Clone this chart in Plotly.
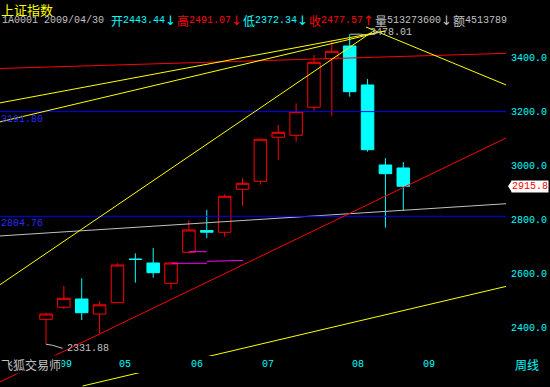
import plotly.graph_objects as go

# ---------------- data ----------------
week_index = list(range(21))
open_ = [2424.0, 2468.4, 2499.0, 2443.44, 2485.4, 2646.5, 2632.2, 2557.1, 2671.7, 2752.0,
         2745.7, 2904.6, 2934.2, 3096.9, 3104.3, 3207.8, 3387.4, 3434.4, 3290.2, 2994.5, 2983.4]
high = [2448.0, 2547.0, 2575.6, 2491.07, 2631.0, 2668.0, 2687.6, 2635.9, 2791.0, 2828.0,
        2886.0, 2945.3, 3090.5, 3142.3, 3222.6, 3401.0, 3456.6, 3478.01, 3312.4, 3020.3, 3005.5]
low = [2331.88, 2462.0, 2421.4, 2372.34, 2484.0, 2559.3, 2577.8, 2536.0, 2669.0, 2723.5,
       2729.4, 2844.0, 2921.6, 3014.0, 3080.6, 3195.2, 3176.7, 3247.0, 3043.6, 2762.7, 2825.5]
close = [2443.6, 2501.7, 2448.4, 2477.57, 2624.8, 2645.5, 2596.3, 2632.2, 2754.2, 2746.0,
         2878.7, 2926.8, 3089.5, 3115.3, 3191.5, 3374.1, 3414.8, 3265.4, 3051.0, 2962.3, 2915.8]

month_labels = ["2009", "05", "06", "07", "08", "09"]
month_index = [0, 4, 8, 12, 17, 21]
y_ticks = [2400, 2600, 2800, 3000, 3200, 3400]

cursor = 3                       # 2009/04/30 week shown in the header
cursor_date = "2009/04/30"
volume_text = "513273600"
amount_text = "4513789"
low_mark = 2331.88
high_mark = 3478.01
last_close = 2915.8
levels = [3191.80, 2804.76]

# drawn lines: (x indices, prices)
red_upper_x, red_upper_y = [-2.6, 25.8], [3351.2, 3407.4]
red_lower_x, red_lower_y = [-2.6, 25.8], [2191.5, 3095.8]
yel_a_x, yel_a_y = [-2.6, 18.25], [2550.8, 3486.1]
yel_b_x, yel_b_y = [-2.6, 18.98], [3153.4, 3489.8]
yel_c_x, yel_c_y = [-2.6, 18.98], [3223.7, 3489.8]
yel_d_x, yel_d_y = [17.91, 25.8], [3504.6, 3289.1]
yel_e_x, yel_e_y = [2.05, 25.8], [2177.4, 2546.4]
gray_x, gray_y = [-2.6, 25.8], [2732.0, 2851.4]
mag1_x, mag1_y = [7.05, 9.0], [2631.1, 2631.1]
mag2_x, mag2_y = [9.0, 11.03], [2638.4, 2641.4]
mag3_x, mag3_y = [8.0, 9.0], [2673.9, 2673.9]
low_conn_x, low_conn_y = [0.0, 0.35, 0.93], [2331.88, 2328.0, 2316.8]
high_conn_x, high_conn_y = [17.03, 17.58, 17.95], [3478.01, 3478.01, 3475.1]

# ---------------- styling ----------------
RED = "#ff0000"
CYAN = "#00ffff"
YEL = "#ffff00"
GRAY = "#c0c0c0"
BLUE = "#0000ff"
BLUE_TXT = "#2a2aff"
MAG = "#ff00ff"
MONO = "Liberation Mono, DejaVu Sans Mono, monospace"
CJK = "Noto Sans CJK SC, sans-serif"
ARROW = "DejaVu Sans, sans-serif"

W, H = 550, 387
PLOT_W = 506


def px_x(px):
    return px / PLOT_W


def px_y(py):
    return 1 - py / H


fig = go.Figure()
fig.add_trace(go.Candlestick(
    x=week_index, open=open_, high=high, low=low, close=close,
    increasing=dict(line=dict(color=RED, width=1), fillcolor="#000000"),
    decreasing=dict(line=dict(color=CYAN, width=1), fillcolor=CYAN),
    whiskerwidth=0, showlegend=False, hoverinfo="skip"))


def line(x, y, color):
    fig.add_trace(go.Scatter(x=x, y=y, mode="lines", line=dict(color=color, width=1),
                             showlegend=False, hoverinfo="skip"))


line(gray_x, gray_y, GRAY)
for lv in levels:
    line([-2.6, 25.8], [lv, lv], BLUE)
line(red_upper_x, red_upper_y, RED)
line(red_lower_x, red_lower_y, RED)
for xx, yy in [(yel_a_x, yel_a_y), (yel_b_x, yel_b_y), (yel_c_x, yel_c_y),
               (yel_d_x, yel_d_y), (yel_e_x, yel_e_y)]:
    line(xx, yy, YEL)
for xx, yy in [(mag1_x, mag1_y), (mag2_x, mag2_y), (mag3_x, mag3_y)]:
    line(xx, yy, MAG)
line(low_conn_x, low_conn_y, GRAY)
line(high_conn_x, high_conn_y, GRAY)

ann = []


def txt(text, x, y, color, size=10, family=MONO, xref="paper", yref="paper",
        xanchor="left", yanchor="middle", **kw):
    ann.append(dict(text=text, x=x, y=y, xref=xref, yref=yref, xanchor=xanchor,
                    yanchor=yanchor, showarrow=False, borderpad=0,
                    font=dict(color=color, size=size, family=family), **kw))


# header
txt("上证指数", px_x(0), px_y(9.5), YEL, size=13, family=CJK)
hy = px_y(20)
tokens = [
    ("1A0001", 1, GRAY, "m"), (cursor_date, 43, GRAY, "m"),
    ("开", 110, CYAN, "c"), (f"{open_[cursor]:.2f}", 122, CYAN, "m"), ("↓", 170, CYAN, "a"),
    ("高", 176, RED, "c"), (f"{high[cursor]:.2f}", 188, RED, "m"), ("↓", 236, RED, "a"),
    ("低", 242, CYAN, "c"), (f"{low[cursor]:.2f}", 254, CYAN, "m"), ("↓", 302, CYAN, "a"),
    ("收", 308, RED, "c"), (f"{close[cursor]:.2f}", 320, RED, "m"), ("↑", 368, RED, "a"),
    ("量", 374, GRAY, "c"), (volume_text, 386, GRAY, "m"), ("↓", 446, GRAY, "a"),
    ("额", 452, GRAY, "c"), (amount_text, 464, GRAY, "m"),
]
for t, x, c, k in tokens:
    if k == "c":
        txt(t, px_x(x), hy, c, size=12, family=CJK)
    elif k == "a":
        txt(t, px_x(x), hy, c, size=13, family=ARROW, xanchor="center")
    else:
        txt(t, px_x(x), hy, c, size=10, family=MONO)

# level labels
for lv in levels:
    txt(f"{lv:.2f}", 0, lv, BLUE_TXT, yref="y", yanchor="top", yshift=-1)

# low / high marks
txt(f"{low_mark:.2f}", low_conn_x[-1], low_conn_y[-1], GRAY, xref="x", yref="y", xshift=3)
txt(f"{high_mark:.2f}", high_conn_x[-1], high_conn_y[-1], GRAY, xref="x", yref="y",
    xshift=2, yshift=2)

# month labels
for lab, i in zip(month_labels, month_index):
    txt(lab, i, px_y(364), CYAN, xref="x", xshift=1)

# footer texts
txt("飞狐交易师", px_x(0), px_y(364), GRAY, size=12, family=CJK, bgcolor="#000000")
txt("周线", px_x(514), px_y(364), CYAN, size=12, family=CJK)

# last price tag
txt(f"{last_close:.1f}", 1, last_close, RED, yref="y", xshift=5, bgcolor="#ffffff")

shapes = [
    dict(type="rect", xref="paper", yref="paper", x0=0, x1=1, y0=px_y(373), y1=px_y(356),
         fillcolor="#000000", line=dict(width=0), layer="above"),
    dict(type="path", xref="paper", yref="y", xsizemode="pixel", ysizemode="pixel",
         xanchor=1, yanchor=last_close, path="M 2,0 L 6,6 L 6,-6 Z",
         fillcolor="#ffffff", line=dict(width=0), layer="above"),
]

fig.update_layout(
    width=W, height=H, margin=dict(l=0, r=W - PLOT_W, t=0, b=0),
    paper_bgcolor="#000000", plot_bgcolor="#000000",
    boxgap=0.3, boxgroupgap=0, showlegend=False,
    xaxis=dict(range=[-2.575, 25.749], visible=False, rangeslider=dict(visible=False),
               fixedrange=True),
    yaxis=dict(range=[2173.7, 3604.4], side="right", tickvals=y_ticks,
               ticktext=[f"{v:.1f}" for v in y_ticks], showgrid=False, zeroline=False,
               showline=False, ticks="", ticklabelstandoff=4, ticklabelshift=2,
               tickfont=dict(color=CYAN, size=10, family=MONO), fixedrange=True),
    annotations=ann, shapes=shapes,
)

fig.write_html("out.html")
